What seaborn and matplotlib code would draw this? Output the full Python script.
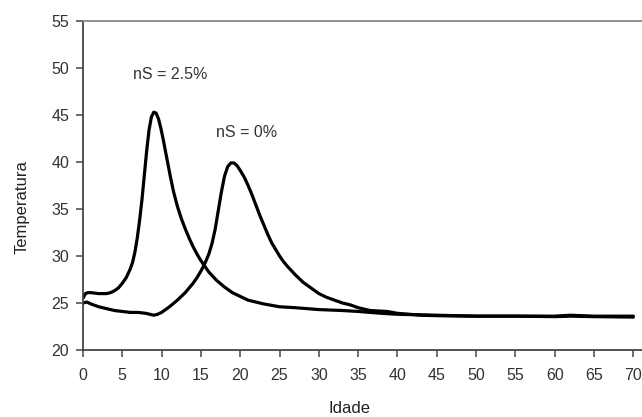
import matplotlib
matplotlib.use("Agg")
import matplotlib.pyplot as plt
import seaborn as sns
import pandas as pd

# nS = 2.5% curve
x_25 = [0, 0.3, 0.6, 1, 2, 3, 3.5, 4, 4.5, 5, 5.5, 6, 6.3, 6.6, 6.9, 7.2, 7.5, 7.8,
        8.1, 8.4, 8.7, 9.0, 9.3, 9.6, 9.9, 10.2, 10.5, 10.8, 11.1, 11.5, 12, 12.5,
        13, 13.5, 14, 14.5, 15, 15.5, 16, 17, 18, 19, 20, 21, 22, 23, 24, 25, 27,
        30, 33, 35, 38, 40, 45, 50, 55, 60, 62, 65, 70]
y_25 = [25.5, 26.0, 26.1, 26.1, 26.0, 26.0, 26.1, 26.3, 26.6, 27.1, 27.7, 28.6, 29.3,
        30.4, 31.9, 33.8, 36.0, 38.6, 41.2, 43.4, 44.8, 45.3, 45.2, 44.6, 43.6, 42.4,
        41.1, 39.8, 38.5, 36.9, 35.3, 34.0, 32.9, 31.9, 31.0, 30.2, 29.5, 28.9, 28.3,
        27.4, 26.7, 26.1, 25.7, 25.3, 25.1, 24.9, 24.75, 24.6, 24.5, 24.3, 24.2, 24.1,
        23.9, 23.8, 23.7, 23.6, 23.6, 23.6, 23.7, 23.6, 23.6]

# nS = 0% curve
x_0 = [0, 0.5, 1, 2, 3, 4, 5, 6, 7, 8, 9, 9.5, 10, 10.5, 11, 12, 13, 14, 14.5, 15,
       15.5, 16, 16.4, 16.8, 17.2, 17.6, 18.0, 18.4, 18.8, 19.2, 19.6, 20.0, 20.5,
       21, 21.5, 22, 22.5, 23, 23.5, 24, 24.5, 25, 25.5, 26, 27, 28, 29, 30, 31, 32,
       33, 34, 35, 36.5, 38.7, 40, 43, 45, 50, 55, 60, 62, 65, 70]
y_0 = [25.0, 25.1, 24.9, 24.6, 24.4, 24.2, 24.1, 24.0, 24.0, 23.9, 23.7, 23.8, 24.0,
       24.3, 24.6, 25.3, 26.1, 27.1, 27.7, 28.4, 29.2, 30.2, 31.3, 32.8, 34.8, 36.8,
       38.5, 39.5, 39.9, 39.9, 39.6, 39.1, 38.4, 37.5, 36.5, 35.4, 34.3, 33.3, 32.3,
       31.4, 30.7, 30.0, 29.4, 28.9, 28.0, 27.2, 26.6, 26.0, 25.6, 25.3, 25.0, 24.8,
       24.5, 24.2, 24.1, 23.9, 23.7, 23.65, 23.6, 23.6, 23.55, 23.6, 23.55, 23.5]

labels = ["nS = 2.5%", "nS = 0%"]
label_pos = [(11.1, 49.3), (20.8, 43.1)]
x_ticks = list(range(0, 71, 5))
y_ticks = list(range(20, 56, 5))

df = pd.concat([
    pd.DataFrame({"Idade": x_25, "Temperatura": y_25, "serie": labels[0]}),
    pd.DataFrame({"Idade": x_0, "Temperatura": y_0, "serie": labels[1]}),
])

sns.set_style("white")
plt.rcParams["font.family"] = ["Liberation Sans", "DejaVu Sans"]

fig = plt.figure(figsize=(6.42, 4.17), dpi=100)
ax = fig.add_axes([83 / 642, 1 - 350 / 417, (642 - 83) / 642, (350 - 21) / 417])

sns.lineplot(data=df, x="Idade", y="Temperatura", units="serie", estimator=None,
             color="black", linewidth=2.3, ax=ax, sort=False)
for ln in ax.get_lines():
    ln.set_solid_joinstyle("round")
    ln.set_solid_capstyle("round")

for t, (lx, ly) in zip(labels, label_pos):
    ax.text(lx, ly, t, ha="center", va="center", fontsize=11.5, color="#333333")

ax.set_xlim(0, 71.1)
ax.set_ylim(20, 55)
ax.set_xticks(x_ticks)
ax.set_yticks(y_ticks)
ax.tick_params(axis="both", direction="out", length=5, width=1.2, color="#555555",
               labelsize=11.5, labelcolor="#333333", pad=4)
ax.tick_params(axis="x", pad=8, bottom=True)
ax.tick_params(axis="y", left=True, pad=5)

for s in ["left", "bottom"]:
    ax.spines[s].set_color("#444444")
    ax.spines[s].set_linewidth(1.3)
ax.spines["right"].set_visible(False)
ax.spines["top"].set_color("#888888")
ax.spines["top"].set_linewidth(1.3)

ax.set_xlabel("Idade", fontsize=12, color="#222222")
ax.set_ylabel("Temperatura", fontsize=12, color="#222222")
ax.xaxis.set_label_coords((349 - 83) / (642 - 83), -(401 - 350) / (350 - 21))
ax.yaxis.set_label_coords(-(83 - 30) / (642 - 83), (350 - 207) / (350 - 21))

fig.savefig("out.png", dpi=100)
